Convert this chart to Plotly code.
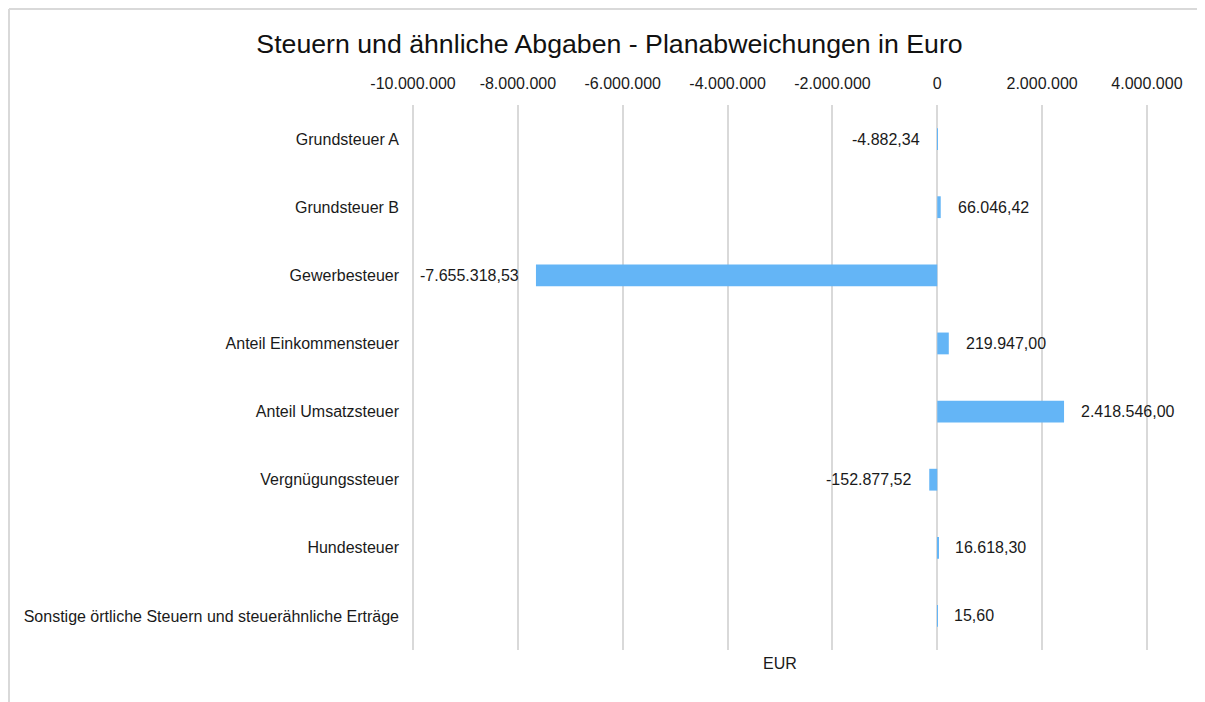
import plotly.graph_objects as go

# Data
categories = [
    "Grundsteuer A",
    "Grundsteuer B",
    "Gewerbesteuer",
    "Anteil Einkommensteuer",
    "Anteil Umsatzsteuer",
    "Vergnügungssteuer",
    "Hundesteuer",
    "Sonstige örtliche Steuern und steuerähnliche Erträge",
]
deviations = [-4882.34, 66046.42, -7655318.53, 219947.00, 2418546.00, -152877.52, 16618.30, 15.60]
tick_values = [-10000000, -8000000, -6000000, -4000000, -2000000, 0, 2000000, 4000000]
tick_labels = ["-10.000.000", "-8.000.000", "-6.000.000", "-4.000.000", "-2.000.000",
               "0", "2.000.000", "4.000.000"]


def de_format(v):
    s = f"{v:,.2f}"
    return s.replace(",", "X").replace(".", ",").replace("X", ".")


# figure sits 8px inside the page (body margin)
W, H = 1197, 694
L, R, T, B = 404, 57, 97, 52
pw, ph = W - L - R, H - T - B
font_family = "Liberation Sans, Arial, sans-serif"
txt = "#1a1a1a"

fig = go.Figure()
fig.add_trace(go.Bar(
    x=deviations, y=categories, orientation="h",
    marker=dict(color="#64b5f6", line=dict(width=0)),
    width=0.32, hoverinfo="x+y",
))

# Value labels beside the bar ends
for cat, v in zip(categories, deviations):
    fig.add_annotation(
        x=v, y=cat, xref="x", yref="y", text=de_format(v), showarrow=False,
        xanchor="left" if v >= 0 else "right",
        xshift=15 if v >= 0 else -15,
        font=dict(size=16, color=txt, family=font_family),
    )

# Axis title at the bottom
fig.add_annotation(
    x=0.5, y=-3 / ph, xref="paper", yref="paper", text="EUR", showarrow=False,
    yanchor="top", font=dict(size=16, color=txt, family=font_family),
)

# Outer frame (left and top edges)
fx = (1 - L) / pw
fy = (ph + T - 1) / ph
fig.add_shape(type="line", xref="paper", yref="paper",
              x0=fx, x1=fx, y0=-B / ph, y1=fy,
              line=dict(color="#d9d9d9", width=2))
fig.add_shape(type="line", xref="paper", yref="paper",
              x0=fx, x1=(W - L) / pw, y0=fy, y1=fy,
              line=dict(color="#d9d9d9", width=2))

fig.update_layout(
    width=W, height=H,
    paper_bgcolor="white", plot_bgcolor="white",
    margin=dict(l=L, r=R, t=T, b=B),
    font=dict(family=font_family, size=16, color=txt),
    title=dict(
        text="Steuern und ähnliche Abgaben - Planabweichungen in Euro",
        x=601.5 / W, xref="container", xanchor="center",
        y=1 - 36 / H, yref="container", yanchor="middle",
        font=dict(size=26.7, color="#111", family=font_family),
    ),
    xaxis=dict(
        side="top", range=[-10020000, 4020000],
        tickvals=tick_values, ticktext=tick_labels,
        showgrid=True, gridcolor="#d9d9d9", gridwidth=1.5,
        zeroline=True, zerolinecolor="#d9d9d9", zerolinewidth=1.5,
        showline=False, ticks="", ticklabelstandoff=12,
        tickfont=dict(size=16, color=txt),
    ),
    yaxis=dict(
        autorange="reversed", showgrid=False, zeroline=False, showline=False,
        ticks="", ticklabelstandoff=12,
        tickfont=dict(size=16, color=txt),
    ),
    showlegend=False,
)

fig.write_html("out.html")
